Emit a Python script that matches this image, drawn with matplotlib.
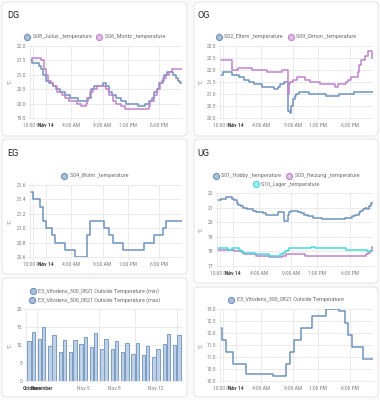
import matplotlib
matplotlib.use("Agg")
import matplotlib.pyplot as plt
from matplotlib.patches import FancyBboxPatch
from matplotlib.lines import Line2D

# hours relative to midnight Nov 14, values in degC (step changes)
time_ticks = [-2, 0, 4, 9, 13, 18]
time_labels = ["10:00 PM", "Nov 14", "4:00 AM", "9:00 AM", "1:00 PM", "6:00 PM"]

# DG
jul_h = [-2.5, -2.26, -1.05, -0.68, -0.41, -0.04, 0.54, 1.07, 1.6, 2.23, 3.03, 3.82, 5.14, 6.73, 7.1, 7.6,
         9.0, 9.5, 9.96, 10.5, 11.1, 11.9, 12.8, 14.7, 15.8, 16.4, 16.8, 17.2, 17.6, 18.0, 18.4, 18.7, 19.2,
         20.1, 20.6, 21.0, 21.3, 21.6]
jul_v = [21.5, 21.4, 21.3, 21.2, 21.0, 20.8, 20.7, 20.6, 20.5, 20.4, 20.3, 20.2, 20.1, 20.2, 20.5, 20.6,
         20.7, 20.6, 20.4, 20.3, 20.2, 20.1, 20.0, 19.9, 20.0, 20.1, 20.2, 20.4, 20.5, 20.7, 20.8, 21.0, 21.1,
         21.0, 20.9, 20.8, 20.7, 20.7]
mor_h = [-2.5, -2.2, -0.7, -0.35, 0.1, 0.4, 0.9, 1.2, 1.8, 2.5, 3.0, 3.7, 5.0, 5.6, 6.3, 6.6, 7.0, 7.5, 8.1,
         9.6, 10.0, 10.6, 11.2, 11.9, 12.5, 16.3, 16.6, 17.1, 17.6, 18.1, 18.6, 19.0, 19.5, 20.0, 21.6]
mor_v = [21.5, 21.6, 21.5, 21.2, 21.0, 20.8, 20.7, 20.6, 20.4, 20.3, 20.2, 20.1, 20.0, 19.9, 20.0, 20.2, 20.4,
         20.5, 20.6, 20.5, 20.3, 20.1, 20.0, 19.9, 19.8, 19.9, 20.1, 20.3, 20.5, 20.7, 20.9, 21.0, 21.1, 21.2, 21.2]

# OG
elt_h = [-2.5, -2.1, -0.68, 0.43, 1.23, 2.02, 2.81, 4.08, 6.04, 6.57, 7.0, 7.52, 8.16, 8.45, 8.74, 9.0, 9.25,
         9.5, 9.9, 11.5, 14.14, 16.25, 18.6, 21.6]
elt_v = [21.8, 21.9, 21.8, 21.7, 21.6, 21.5, 21.4, 21.3, 21.2, 21.3, 21.4, 21.5, 20.3, 20.2, 20.5, 20.8, 20.9,
         21.0, 21.1, 21.0, 20.9, 21.0, 21.1, 21.1]
sim_h = [-2.5, -0.68, 0.38, 2.5, 4.88, 7.26, 8.2, 8.35, 8.58, 9.0, 9.64, 10.96, 11.65, 13.24, 15.57, 16.1,
         17.3, 17.68, 18.1, 19.16, 19.4, 19.7, 20.3, 20.75, 21.45, 21.6]
sim_v = [22.4, 22.0, 22.1, 22.0, 21.9, 22.0, 21.0, 21.4, 21.5, 21.6, 21.7, 21.6, 21.5, 21.4, 21.3, 21.4,
         21.5, 21.6, 21.7, 21.9, 22.2, 22.4, 22.6, 22.8, 22.5, 22.5]

# EG
woh_h = [-2.5, -1.95, -0.89, -0.47, 0.0, 0.96, 1.5, 3.08, 4.6, 6.57, 7.05, 9.16, 10.1, 10.6, 12.2, 15.6,
         17.2, 18.6, 19.05, 21.6]
woh_v = [21.5, 21.4, 21.3, 21.1, 21.0, 20.9, 20.8, 20.7, 20.6, 20.9, 21.1, 21.0, 20.9, 20.8, 20.7, 20.8,
         20.9, 21.0, 21.1, 21.1]

# UG
hob_h = [-2.5, -1.85, -1.08, -0.12, 0.14, 0.54, 0.8, 1.2, 1.56, 2.07, 3.09, 3.6, 4.62, 5.12, 6.9, 7.82,
         8.43, 8.69, 8.94, 9.96, 10.47, 10.98, 11.5, 12.26, 13.77, 17.34, 18.36, 18.87, 19.37, 19.63, 20.04,
         20.4, 20.6, 21.0, 21.26, 21.6]
hob_v = [21.5, 21.6, 21.7, 21.6, 21.5, 21.3, 21.2, 21.1, 21.0, 20.9, 20.8, 20.7, 20.6, 20.5, 20.7, 20.1,
         20.5, 20.7, 20.8, 20.7, 20.6, 20.5, 20.4, 20.3, 20.2, 20.3, 20.4, 20.5, 20.6, 20.8, 20.9,
         21.0, 20.9, 21.1, 21.3, 21.3]
hei_h = [-2.5, 0.14, 1.3, 1.7, 3.6, 5.48, 7.5, 8.15, 11.1, 20.54, 20.9, 21.16, 21.4, 21.6]
hei_v = [18.1, 18.0, 17.9, 17.8, 17.7, 17.6, 17.7, 17.8, 17.7, 17.8, 17.9, 18.0, 18.3, 18.3]
lag_h = [-2.5, -0.73, -0.22, 0.9, 1.2, 1.56, 3.34, 5.48, 7.16, 7.67, 8.03, 8.43, 8.69, 12.0, 12.6, 17.5,
         20.65, 21.4, 21.6]
lag_v = [18.2, 18.1, 18.2, 18.1, 18.0, 17.9, 17.8, 17.7, 17.8, 17.9, 18.0, 18.1, 18.2, 18.3, 18.2, 18.1,
         18.0, 18.0, 18.0]

# outside temperature
out_h = [-2.5, -2.16, -1.58, -0.43, 1.66, 5.85, 7.95, 8.47, 9.1, 10.25, 12.0, 14.23, 16.2, 17.2, 17.6,
         18.3, 20.0, 21.6]
out_v = [12.2, 11.7, 11.2, 10.7, 10.3, 10.2, 10.7, 11.2, 11.7, 12.2, 12.7, 13.0, 12.9, 12.4, 11.9,
         11.4, 10.9, 10.9]

# daily statistics, Oct 31 .. Nov 14
day_idx = list(range(15))
t_min = [11.1, 11.8, 9.7, 8.1, 8.1, 10.4, 9.4, 8.9, 8.9, 8.1, 7.6, 7.3, 6.6, 10.2, 9.9]
t_max = [13.7, 14.9, 12.7, 11.5, 11.3, 12.3, 13.4, 11.6, 11.0, 10.6, 10.6, 9.8, 8.8, 13.1, 12.8]
day_ticks = [0, 1, 5, 8, 12]
day_labels = ["October", "November", "Nov 5", "Nov 8", "Nov 12"]

BLUE = "#6f93bd"
PURPLE = "#bf84cb"
CYAN = "#48d8dc"
BLUE_F = "#a9c0da"
PURPLE_F = "#dcbfe3"
CYAN_F = "#9eeeee"
GRID = "#e3e3e3"
TICKC = "#7a7a7a"
LEGC = "#6a6a6a"

W, H = 380, 400
plt.rcParams['font.family'] = ['Roboto', 'DejaVu Sans']
TITLE_FS = 6.6
LEG_FS = 3.9
TICK_FS = 3.5
LW = 1.1

fig = plt.figure(figsize=(3.8, 4.0), dpi=100)
fig.patch.set_facecolor("#fafafa")
renderer = fig.canvas.get_renderer()


def card(x0, y0, x1, y1):
    p = FancyBboxPatch((x0 / W, 1 - y1 / H), (x1 - x0) / W, (y1 - y0) / H,
                       boxstyle="round,pad=0,rounding_size=0.011", transform=fig.transFigure,
                       facecolor="white", edgecolor="#e0e0e0", lw=0.6, zorder=-5)
    fig.add_artist(p)


def mk_ax(x0, y0, x1, y1):
    ax = fig.add_axes([x0 / W, 1 - y1 / H, (x1 - x0) / W, (y1 - y0) / H])
    ax.set_facecolor("none")
    return ax


def title(x, y, s):
    fig.text(x / W, 1 - y / H, s, fontsize=TITLE_FS, color="#212121", va="center", ha="left")


def legend_row(items, cy, cx):
    texts = []
    total = 0
    for lab, col, fill in items:
        t = fig.text(0, 0, lab, fontsize=LEG_FS, color=LEGC, va="center", ha="left")
        w = t.get_window_extent(renderer).width
        texts.append((t, w, col, fill))
        total += 6 + 2.5 + w
    total += 4.6 * (len(items) - 1)
    x = cx - total / 2
    for t, w, col, fill in texts:
        m = Line2D([(x + 3) / W], [1 - cy / H], marker="o", ms=4.4, mfc=fill, mec=col, mew=0.8,
                   ls="none", transform=fig.transFigure)
        fig.add_artist(m)
        t.set_position(((x + 8.5) / W, 1 - cy / H))
        x += 6 + 2.5 + w + 4.6


def style(ax, ylim, yticks, fmt, xlim, xticks, xlabels, bold):
    ax.set_xlim(xlim)
    ax.set_ylim(ylim)
    ax.set_yticks(yticks, [fmt.format(v) for v in yticks])
    ax.set_xticks(xticks, xlabels)
    ax.grid(True, color=GRID, lw=0.5)
    ax.set_axisbelow(True)
    for s in ["top", "right"]:
        ax.spines[s].set_visible(False)
    for s in ["left", "bottom"]:
        ax.spines[s].set_color(GRID)
        ax.spines[s].set_linewidth(0.5)
    ax.tick_params(length=1.5, width=0.5, color=GRID, labelsize=TICK_FS, labelcolor=TICKC, pad=1.3)
    ax.tick_params(axis="x", pad=2.0)
    for lab in ax.get_xticklabels():
        if lab.get_text() in bold:
            lab.set_fontweight("bold")
            lab.set_color("#444444")


def ylab(x, y0, y1):
    fig.text(x / W, 1 - (y0 + y1) / 2 / H, "°C", rotation=90, fontsize=TICK_FS, color=TICKC,
             va="center", ha="center")


XL = (-2.5, 21.6)

# cards
card(2, 2, 187, 136)
card(194, 2, 378, 136)
card(2, 139, 187, 274)
card(194, 139, 378, 283)
card(2, 278, 187, 397)
card(194, 287, 378, 397)

# DG
title(7.5, 15.5, "DG")
legend_row([("S08_Julius _temperature", BLUE, BLUE_F), ("S06_Moritz _temperature", PURPLE, PURPLE_F)], 36.7, 94.5)
ax = mk_ax(30, 46, 182, 118)
ax.step(jul_h, jul_v, where="post", color=BLUE, lw=LW)
ax.step(mor_h, mor_v, where="post", color=PURPLE, lw=LW)
style(ax, (19.5, 22.0), [19.5, 20.0, 20.5, 21.0, 21.5, 22.0], "{:.1f}", XL, time_ticks, time_labels, ["Nov 14"])
ylab(10.5, 46, 118)

# OG
title(197.5, 15.5, "OG")
legend_row([("S02_Eltern _temperature", BLUE, BLUE_F), ("S09_Simon _temperature", PURPLE, PURPLE_F)], 36.7, 286)
ax = mk_ax(220, 46, 373, 118)
ax.step(elt_h, elt_v, where="post", color=BLUE, lw=LW)
ax.step(sim_h, sim_v, where="post", color=PURPLE, lw=LW)
style(ax, (20.0, 23.0), [20.0, 20.5, 21.0, 21.5, 22.0, 22.5, 23.0], "{:.1f}", XL, time_ticks, time_labels, ["Nov 14"])
ylab(201, 46, 118)

# EG
title(7.5, 153.5, "EG")
legend_row([("S04_Wohn _temperature", BLUE, BLUE_F)], 175.7, 94.5)
ax = mk_ax(30, 185, 182, 257)
ax.step(woh_h, woh_v, where="post", color=BLUE, lw=LW)
style(ax, (20.6, 21.6), [20.6, 20.8, 21.0, 21.2, 21.4, 21.6], "{:.1f}", XL, time_ticks, time_labels, ["Nov 14"])
ylab(10.5, 185, 257)

# UG
title(197.5, 153.5, "UG")
legend_row([("S01_Hobby _temperature", BLUE, BLUE_F), ("S03_Heizung _temperature", PURPLE, PURPLE_F)], 175.7, 286)
legend_row([("S10_Lager _temperature", CYAN, CYAN_F)], 184.3, 286)
ax = mk_ax(217, 193, 373, 266)
ax.step(hob_h, hob_v, where="post", color=BLUE, lw=LW)
ax.step(hei_h, hei_v, where="post", color=PURPLE, lw=LW)
ax.step(lag_h, lag_v, where="post", color=CYAN, lw=LW)
style(ax, (17, 22), [17, 18, 19, 20, 21, 22], "{:.0f}", XL, time_ticks, time_labels, ["Nov 14"])
ylab(201, 193, 266)

# daily min / max bars
legend_row([("E3_Vitodens_300_0821 Outside Temperature (min)", BLUE, BLUE_F)], 291, 94.5)
legend_row([("E3_Vitodens_300_0821 Outside Temperature (max)", BLUE, BLUE_F)], 300, 94.5)
ax = mk_ax(26, 309, 182, 381)
ax.bar([d - 0.2 for d in day_idx], t_min, width=0.32, color="#bfd1e6", edgecolor="#7b9cc3", lw=0.7)
ax.bar([d + 0.2 for d in day_idx], t_max, width=0.32, color="#bfd1e6", edgecolor="#7b9cc3", lw=0.7)
style(ax, (0, 20), [0, 5, 10, 15, 20], "{:.0f}", (-0.5, 14.5), day_ticks, day_labels, ["October", "November"])
ax.xaxis.grid(False)
for gx in [0.58, 6.5, 10.0, 14.0]:
    ax.axvline(gx, color=GRID, lw=0.5, zorder=0)
ylab(10.5, 309, 381)

# outside temperature
legend_row([("E3_Vitodens_300_0821 Outside Temperature", BLUE, BLUE_F)], 300, 286)
ax = mk_ax(220, 309, 373, 381)
ax.step(out_h, out_v, where="post", color=BLUE, lw=LW)
style(ax, (10.0, 13.0), [10.0, 10.5, 11.0, 11.5, 12.0, 12.5, 13.0], "{:.1f}", XL, time_ticks, time_labels, ["Nov 14"])
ylab(201, 309, 381)

fig.savefig("out.png", dpi=100, facecolor=fig.get_facecolor())
